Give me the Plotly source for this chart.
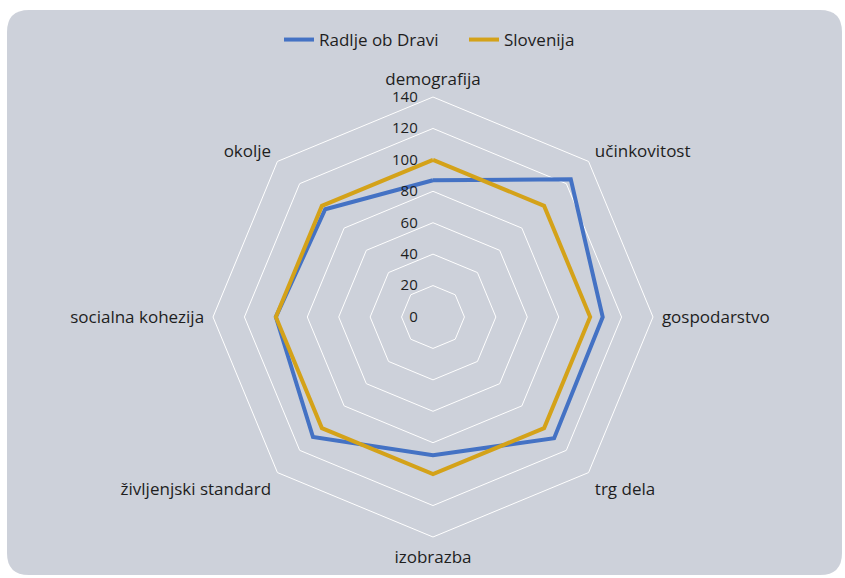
import plotly.graph_objects as go

categories = ["demografija", "učinkovitost", "gospodarstvo", "trg dela",
              "izobrazba", "življenjski standard", "socialna kohezija", "okolje"]
radlje = [87, 124, 108, 109, 88, 108, 100, 97]
slovenija = [100, 100, 100, 100, 100, 100, 100, 100]
radial_ticks = [0, 20, 40, 60, 80, 100, 120, 140]
radial_labels = [str(t) for t in radial_ticks]

W, H = 845, 578
FONT = "Open Sans"

def closed(v):
    return list(v) + [v[0]]

fig = go.Figure()
fig.add_trace(go.Scatterpolar(r=closed(radlje), theta=closed(categories), mode="lines",
                              name="Radlje ob Dravi", line=dict(color="#4472C4", width=4)))
fig.add_trace(go.Scatterpolar(r=closed(slovenija), theta=closed(categories), mode="lines",
                              name="Slovenija", line=dict(color="#D4A219", width=4)))

# rounded background panel in paper coordinates
x0, x1, y0, y1, rad = 7, 842, 10, 575, 22
def px(x): return x / W
def py(y): return 1 - y / H
path = (f"M {px(x0+rad)},{py(y0)} L {px(x1-rad)},{py(y0)} Q {px(x1)},{py(y0)} {px(x1)},{py(y0+rad)} "
        f"L {px(x1)},{py(y1-rad)} Q {px(x1)},{py(y1)} {px(x1-rad)},{py(y1)} "
        f"L {px(x0+rad)},{py(y1)} Q {px(x0)},{py(y1)} {px(x0)},{py(y1-rad)} "
        f"L {px(x0)},{py(y0+rad)} Q {px(x0)},{py(y0)} {px(x0+rad)},{py(y0)} Z")

pad = "<span style='color:rgba(0,0,0,0)'>0.</span>"

cx, cy, R = 433, 317, 220
fig.update_layout(
    width=W, height=H,
    margin=dict(l=0, r=0, t=0, b=0),
    paper_bgcolor="white",
    font=dict(family=FONT, size=17, color="#1e1e1e"),
    shapes=[dict(type="path", xref="paper", yref="paper", path=path,
                 fillcolor="#CDD1DA", line=dict(width=0), layer="below")],
    polar=dict(
        domain=dict(x=[(cx - R) / W, (cx + R) / W], y=[1 - (cy + R) / H, 1 - (cy - R) / H]),
        bgcolor="rgba(0,0,0,0)",
        gridshape="linear",
        radialaxis=dict(range=[0, 140], tickvals=radial_ticks,
                        ticktext=[t + pad for t in radial_labels],
                        angle=90, tickangle=90, side="counterclockwise",
                        showline=False, gridcolor="white", gridwidth=1, ticks="",
                        tickfont=dict(size=15, color="#1e1e1e")),
        angularaxis=dict(rotation=90, direction="clockwise", showgrid=False,
                         linecolor="white", linewidth=1, ticks="outside", ticklen=5,
                         tickcolor="rgba(0,0,0,0)",
                         tickfont=dict(size=17, color="#1e1e1e")),
    ),
    legend=dict(orientation="h", x=464 / W, xanchor="center", y=py(40), yanchor="middle",
                bgcolor="rgba(0,0,0,0)", font=dict(size=17), entrywidth=140),
)
fig.write_html("out.html", post_script="document.body.style.margin='0';",
               config={"displayModeBar": False})
